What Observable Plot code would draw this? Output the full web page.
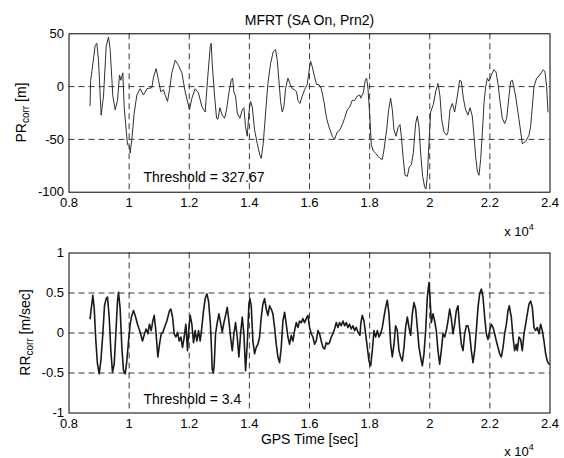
<!DOCTYPE html>
<html><head><meta charset="utf-8">
<script src="https://cdn.jsdelivr.net/npm/d3@7"></script>
<script src="https://cdn.jsdelivr.net/npm/@observablehq/plot@0.6"></script>
<style>
body{margin:0;background:#fff;}
#wrap{position:relative;width:564px;height:458px;font-family:"Liberation Sans",Arial,Helvetica,sans-serif;}
#wrap svg{position:absolute;left:0;}
</style></head><body><div id="wrap"></div>
<script>
// ---- data ----
const chartTitle = "MFRT (SA On, Prn2)";
const xLabel = "GPS Time [sec]";
const xTicks = [8000, 10000, 12000, 14000, 16000, 18000, 20000, 22000, 24000];
const xTickLabels = ["0.8", "1", "1.2", "1.4", "1.6", "1.8", "2", "2.2", "2.4"];
const prTicks = [-100, -50, 0, 50];
const rrTicks = [-1, -0.5, 0, 0.5, 1];
const prGrid = [0, -50];
const rrGrid = [0.5, 0, -0.5];
const prThresholdText = "Threshold = 327.67";
const rrThresholdText = "Threshold = 3.4";

const prTime = [8700,8720,8760,8871,8926,8981,9070,9148,9237,9314,9370,9458,9536,9614,9680,9725,9791,9835,9902,9946,10013,10035,10090,10168,10257,10368,10479,10590,10756,10811,10900,10978,11055,11144,11199,11277,11344,11421,11532,11643,11754,11865,12009,12087,12197,12308,12419,12530,12608,12697,12730,12764,12842,12909,12953,13020,13097,13175,13241,13319,13397,13441,13485,13541,13596,13685,13763,13818,13873,13929,13984,14040,14095,14173,14262,14350,14395,14461,14539,14617,14705,14794,14872,14927,14982,15038,15093,15149,15204,15282,15348,15426,15504,15570,15615,15681,15759,15836,15925,15992,16036,16091,16169,16236,16313,16391,16480,16568,16646,16757,16834,16923,17012,17090,17167,17256,17345,17422,17500,17589,17677,17701,17790,17856,17901,17945,18012,18056,18122,18200,18278,18344,18422,18477,18566,18633,18699,18755,18810,18877,18943,19010,19054,19121,19176,19254,19320,19387,19453,19531,19586,19642,19697,19764,19830,19875,19919,19974,20030,20119,20196,20274,20340,20396,20474,20562,20607,20673,20751,20829,20917,20995,21050,21117,21194,21272,21339,21416,21472,21527,21583,21638,21693,21749,21804,21860,21915,21971,22048,22137,22203,22270,22337,22414,22492,22558,22636,22692,22747,22857,22968,23079,23190,23301,23356,23412,23467,23556,23633,23711,23777,23833,23888,23933];
const prValue = [-18,6,14,39,41,25,-27,-9,38,47,35,-9,-22,-13,11,6,13,-19,-41,-55,-57,-63,-50,-25,-8,-2,-8,-2,-1,9,17,6,-5,-3,-8,-14,-3,13,25,20,13,-5,-22,-11,-2,-6,-19,-24,6,38,41,22,-9,-30,-31,-20,-27,-30,-22,-6,6,8,-5,-9,-25,-30,-22,-20,-38,-47,-25,-14,-19,-41,-54,-65,-68,-54,-25,3,22,33,35,25,6,-14,-24,-19,-2,8,3,-2,-3,-5,-13,-16,-9,-3,2,16,24,19,9,2,2,-2,-14,-30,-38,-47,-50,-43,-41,-36,-30,-22,-19,-13,-13,-9,-8,-11,-6,6,8,-2,-31,-55,-61,-63,-66,-68,-69,-60,-41,-22,-11,-22,-41,-47,-39,-36,-47,-69,-84,-85,-76,-74,-63,-35,-28,-38,-63,-85,-95,-97,-85,-54,-24,-17,-5,3,-9,-31,-43,-46,-43,-22,-16,-24,-9,6,5,-11,-22,-27,-20,-28,-47,-66,-80,-84,-69,-44,-16,0,8,5,11,16,14,3,-14,-30,-35,-30,-9,5,6,-9,-31,-54,-52,-46,-38,-19,0,8,10,13,16,14,0,-24];

const rrTime = [8704,8726,8793,8837,8893,8948,9004,9059,9126,9181,9237,9281,9337,9392,9447,9503,9558,9614,9647,9702,9758,9813,9869,9924,9980,10035,10090,10146,10201,10279,10368,10445,10512,10567,10623,10678,10734,10789,10834,10889,10956,11011,11066,11122,11177,11255,11344,11388,11444,11499,11554,11610,11665,11721,11776,11832,11887,11942,11976,12031,12087,12142,12198,12253,12308,12364,12419,12475,12530,12586,12641,12697,12730,12764,12800,12830,12875,12931,12986,13042,13097,13153,13208,13263,13319,13374,13430,13485,13541,13596,13652,13707,13763,13818,13873,13929,13984,14018,14062,14117,14173,14228,14284,14339,14395,14450,14506,14561,14617,14672,14727,14783,14838,14894,14949,15005,15060,15116,15171,15226,15282,15337,15393,15448,15504,15559,15615,15670,15726,15781,15836,15892,15947,16003,16058,16114,16169,16224,16280,16335,16391,16446,16502,16557,16612,16668,16723,16779,16834,16890,16945,17001,17056,17112,17167,17222,17278,17333,17389,17444,17500,17555,17611,17677,17710,17756,17812,17867,17923,17978,18034,18089,18145,18200,18256,18311,18366,18422,18477,18533,18588,18644,18699,18755,18810,18865,18921,18976,19032,19087,19143,19198,19254,19309,19365,19420,19475,19531,19586,19642,19697,19753,19808,19864,19919,19975,20008,20052,20108,20163,20218,20274,20329,20385,20440,20496,20551,20607,20662,20718,20773,20828,20884,20939,20995,21050,21106,21161,21217,21272,21327,21383,21438,21494,21549,21605,21660,21716,21771,21827,21882,21937,21993,22048,22104,22159,22215,22270,22326,22381,22437,22492,22548,22603,22647,22692,22713,22768,22824,22879,22912,22968,23023,23079,23134,23190,23245,23301,23356,23412,23467,23523,23578,23633,23689,23744,23800,23855,23910,23966];
const rrValue = [0.18,0.26,0.47,0.32,-0.10,-0.39,-0.51,-0.35,-0.01,0.34,0.43,0.45,0.20,-0.22,-0.49,-0.39,-0.01,0.40,0.51,0.30,-0.18,-0.47,-0.51,-0.35,-0.10,0.11,0.22,0.28,0.22,0.11,0.01,-0.10,-0.01,0.05,-0.01,0.11,0.03,0.15,0.22,0.03,-0.30,-0.14,-0.01,0.01,0.07,0.15,0.28,0.30,0.20,-0.01,-0.05,0.01,-0.10,-0.05,-0.18,-0.05,0.11,-0.22,0.01,0.22,0.11,-0.12,0.03,-0.10,0.03,-0.10,0.07,0.28,0.43,0.49,0.40,0.15,-0.10,-0.45,-0.50,-0.40,-0.01,0.13,0.24,0.13,0.01,0.13,0.22,0.32,0.15,-0.05,-0.22,-0.01,0.13,-0.05,-0.30,-0.01,0.20,-0.01,-0.47,-0.14,0.36,0.43,0.34,-0.10,-0.26,-0.18,-0.14,-0.05,0.20,0.36,0.43,0.30,0.22,0.34,0.30,0.24,0.07,-0.14,-0.30,-0.37,-0.18,0.15,0.26,0.11,-0.05,-0.14,-0.03,-0.10,0.03,0.13,0.07,0.15,0.13,0.18,0.13,0.18,0.22,0.07,-0.01,-0.05,-0.14,-0.10,0.03,-0.01,-0.10,-0.18,-0.20,-0.12,-0.14,-0.12,-0.05,-0.01,0.05,0.13,0.07,0.13,0.09,0.15,0.09,0.13,0.07,0.11,0.05,0.09,0.03,0.07,0.01,-0.03,0.13,0.22,0.15,-0.01,-0.18,-0.35,-0.41,-0.22,0.03,-0.05,0.03,-0.05,-0.01,0.07,0.20,0.32,0.41,0.24,-0.14,-0.30,-0.14,0.09,0.03,-0.22,-0.30,-0.35,-0.18,0.07,0.20,0.07,-0.03,0.24,0.38,0.30,0.07,-0.18,-0.30,-0.41,-0.26,0.03,0.45,0.63,0.45,0.13,0.24,0.15,0.03,-0.22,-0.39,-0.22,-0.01,-0.05,0.03,0.15,0.30,0.18,-0.01,0.11,0.28,0.34,0.07,-0.14,-0.22,-0.01,0.09,0.09,-0.01,-0.22,-0.37,-0.22,0.03,0.32,0.49,0.55,0.45,0.20,-0.01,-0.08,0.03,0.11,0.07,-0.01,-0.10,-0.18,-0.26,-0.30,-0.18,-0.01,0.11,0.28,0.34,0.24,0.20,-0.05,-0.22,-0.14,-0.22,-0.05,-0.08,-0.22,-0.01,0.11,0.24,0.36,0.40,0.32,0.07,0.03,0.07,-0.01,0.11,0.03,-0.10,-0.26,-0.35,-0.39];

// ---- drawing ----
const FONT = '"Liberation Sans", Arial, Helvetica, sans-serif';
const fmtX = d => xTickLabels[xTicks.indexOf(d)];
const gridStyle = {stroke: "#222", strokeWidth: 0.9, strokeDasharray: "6,4"};
const wrap = document.getElementById("wrap");

function panel({top, height, mt, mb, domain, yTicks, yGrid, time, value, lineWidth, lineColor, thrText, thrY, extraMarks}) {
  const svg = Plot.plot({
    width: 564, height,
    marginLeft: 68.5, marginRight: 14.5, marginTop: mt, marginBottom: mb,
    style: {background: "transparent", fontFamily: FONT, fontSize: "13px", color: "#000"},
    x: {domain: [8000, 24000], label: null},
    y: {domain, label: null},
    marks: [
      Plot.ruleX(xTicks.slice(1, -1), gridStyle),
      Plot.ruleY(yGrid, gridStyle),
      Plot.line(value, {x: time, y: value, stroke: lineColor, strokeWidth: lineWidth, curve: "linear"}),
      Plot.frame({stroke: "#000", strokeWidth: 1}),
      Plot.axisX({ticks: xTicks, tickFormat: fmtX, tickSize: 0, tickPadding: 6, label: null, fontSize: 13}),
      Plot.axisY({ticks: yTicks, tickFormat: d => String(d), tickSize: 0, tickPadding: 5, label: null, fontSize: 13}),
      Plot.text([thrText], {x: 10479, y: thrY, textAnchor: "start", fontSize: 14, fill: "#000"}),
      ...extraMarks
    ]
  });
  svg.style.top = top + "px";
  wrap.appendChild(svg);
  return svg;
}

const s1 = panel({
  top: 0, height: 245, mt: 33.3, mb: 53.3, domain: [-100, 50], yTicks: prTicks, yGrid: prGrid,
  time: prTime, value: prValue, lineWidth: 1, lineColor: "#303030",
  thrText: prThresholdText, thrY: -86,
  extraMarks: [Plot.text([chartTitle], {frameAnchor: "top", dy: -18.3, fontSize: 14, fill: "#000"})]
});
const s2 = panel({
  top: 240, height: 218, mt: 12.5, mb: 45.5, domain: [-1, 1], yTicks: rrTicks, yGrid: rrGrid,
  time: rrTime, value: rrValue, lineWidth: 1.6, lineColor: "#1a1a1a",
  thrText: rrThresholdText, thrY: -0.83,
  extraMarks: [Plot.text([xLabel], {frameAnchor: "bottom", dy: 31, fontSize: 14, fill: "#000"})]
});

function yLabel(svg, x, y, main, sub, rest) {
  const t = d3.select(svg).append("text")
    .attr("transform", `translate(${x},${y}) rotate(-90)`)
    .attr("text-anchor", "middle")
    .attr("font-family", FONT).attr("font-size", 14).attr("fill", "#000");
  t.append("tspan").text(main);
  t.append("tspan").attr("font-size", 10).attr("dy", 3).text(sub);
  t.append("tspan").attr("dy", -3).text(rest);
}
function expLabel(svg, x, y) {
  const t = d3.select(svg).append("text")
    .attr("x", x).attr("y", y)
    .attr("font-family", FONT).attr("font-size", 13).attr("fill", "#000");
  t.append("tspan").text("x 10");
  t.append("tspan").attr("font-size", 9).attr("dy", -6).text("4");
}
yLabel(s1, 26, 112.5, "PR", "corr", " [m]");
yLabel(s2, 30, 92.5, "RR", "corr", " [m/sec]");
expLabel(s1, 519, 236);
expLabel(s2, 519, 216);
</script></body></html>
